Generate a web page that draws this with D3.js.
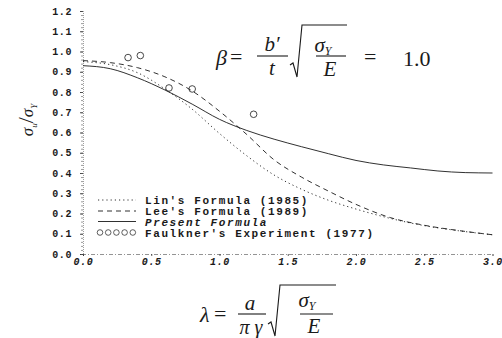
<!DOCTYPE html>
<html>
<head>
<meta charset="utf-8">
<script src="https://cdn.jsdelivr.net/npm/d3@7"></script>
<style>
  html, body { margin: 0; padding: 0; background: #fff; }
  svg { display: block; }
  .mono { font-family: "Liberation Mono", "DejaVu Sans Mono", monospace; font-weight: bold; }
  .math { font-family: "Liberation Serif", "DejaVu Serif", serif; }
</style>
</head>
<body>
<svg id="chart" width="502" height="338"></svg>
<script>
// Non-dimensional slenderness λ and ultimate strength ratio σu/σY
const lambdaGrid   = [0.0, 0.2, 0.4, 0.6, 0.8, 1.0, 1.2, 1.4, 1.6, 1.8, 2.0, 2.25, 2.5, 2.75, 3.0];
const linFormula   = [0.95, 0.935, 0.895, 0.815, 0.715, 0.595, 0.485, 0.39, 0.32, 0.265, 0.222, 0.176, 0.14, 0.115, 0.095];
const leeFormula   = [0.955, 0.945, 0.92, 0.875, 0.805, 0.705, 0.59, 0.465, 0.38, 0.31, 0.245, 0.18, 0.142, 0.116, 0.095];
const presentLambda  = [0.0, 0.2, 0.4, 0.6, 0.8, 1.0, 1.2, 1.4, 1.6, 1.8, 2.0, 2.2, 2.4, 2.6, 2.8, 3.0];
const presentFormula = [0.93, 0.915, 0.87, 0.81, 0.74, 0.665, 0.61, 0.567, 0.53, 0.495, 0.462, 0.44, 0.425, 0.41, 0.402, 0.40];
const faulknerLambda = [0.33, 0.42, 0.63, 0.80, 1.25];
const faulknerValue  = [0.97, 0.98, 0.82, 0.815, 0.69];

const xTicks = [0.0, 0.5, 1.0, 1.5, 2.0, 2.5, 3.0];
const yTicks = [0.0, 0.1, 0.2, 0.3, 0.4, 0.5, 0.6, 0.7, 0.8, 0.9, 1.0, 1.1, 1.2];
const legendLabels = ["Lin's Formula (1985)", "Lee's Formula (1989)", "Present Formula", "Faulkner's Experiment (1977)"];

const svg = d3.select("#chart");
const ink = "#1a1a1a";

const x = d3.scaleLinear().domain([0, 3]).range([83, 492.5]);
const y = d3.scaleLinear().domain([0, 1.2]).range([254, 11]);

// y axis: labelled ticks plus fine minor ticks
const yAxis = svg.append("g").attr("transform", `translate(${x(0)},0)`)
  .call(d3.axisLeft(y).tickValues(yTicks).tickFormat(d3.format(".1f")).tickSize(3).tickPadding(8));
yAxis.select(".domain").attr("stroke", "#777").attr("stroke-width", 0.7).attr("stroke-dasharray", "1,1");
yAxis.selectAll(".tick line").attr("stroke", ink).attr("stroke-width", 0.8);
yAxis.selectAll(".tick text").attr("class", "mono").attr("font-size", 10).attr("fill", ink)
  .style("letter-spacing", "0.6px");
svg.append("g").attr("transform", `translate(${x(0)},0)`)
  .call(d3.axisLeft(y).tickValues(d3.range(0, 121, 2).map(d => d / 100)).tickFormat("").tickSize(2))
  .call(g => g.select(".domain").remove())
  .selectAll(".tick line").attr("stroke", "#555").attr("stroke-width", 0.6);

// x axis
const xAxis = svg.append("g").attr("transform", `translate(0,${y(0)})`)
  .call(d3.axisBottom(x).tickValues(xTicks).tickFormat(d3.format(".1f")).tickSize(2).tickPadding(2));
xAxis.select(".domain").attr("stroke", "#666").attr("stroke-width", 0.7).attr("stroke-dasharray", "4,2,1,2");
xAxis.selectAll(".tick line").attr("stroke", ink).attr("stroke-width", 0.7);
xAxis.selectAll(".tick text").attr("class", "mono").attr("font-size", 10).style("font-style", "italic")
  .attr("fill", ink).style("letter-spacing", "0.6px");

// curves
const line = d3.line().x(d => x(d[0])).y(d => y(d[1])).curve(d3.curveMonotoneX);
const styles = [
  { data: d3.zip(lambdaGrid, linFormula), dash: "1.2,3" },
  { data: d3.zip(lambdaGrid, leeFormula), dash: "5,4" },
  { data: d3.zip(presentLambda, presentFormula), dash: null }
];
styles.forEach(s => {
  svg.append("path").attr("d", line(s.data)).attr("fill", "none")
    .attr("stroke", ink).attr("stroke-width", 0.9)
    .attr("stroke-dasharray", s.dash);
});

svg.append("g").selectAll("circle").data(d3.zip(faulknerLambda, faulknerValue)).join("circle")
  .attr("cx", d => x(d[0])).attr("cy", d => y(d[1])).attr("r", 3.3)
  .attr("fill", "none").attr("stroke", ink).attr("stroke-width", 0.8);

// legend
const lg = svg.append("g");
const rowY = [200, 211, 221.5, 232.5];
const legendDash = ["1.2,3", "5,4", null];
legendDash.forEach((dash, i) => {
  lg.append("line").attr("x1", 98).attr("x2", 136).attr("y1", rowY[i]).attr("y2", rowY[i])
    .attr("stroke", ink).attr("stroke-width", 0.9).attr("stroke-dasharray", dash);
});
lg.selectAll("circle").data(d3.range(5)).join("circle")
  .attr("cx", d => 100 + d * 8.2).attr("cy", rowY[3]).attr("r", 2.8)
  .attr("fill", "none").attr("stroke", ink).attr("stroke-width", 0.7);
legendLabels.forEach((t, i) => {
  lg.append("text").attr("class", "mono").attr("x", 145).attr("y", rowY[i] + 4)
    .attr("font-size", 11).attr("fill", ink)
    .style("letter-spacing", "1.6px")
    .style("font-style", i === 2 ? "italic" : "normal").text(t);
});

// y axis title σu/σY
const yt = svg.append("text").attr("class", "math").attr("fill", ink).style("font-style", "italic")
  .attr("transform", "translate(33,120) rotate(-90)").attr("text-anchor", "middle").attr("font-size", 17);
yt.append("tspan").text("σ");
yt.append("tspan").attr("font-size", 9).attr("dy", 4).text("u");
yt.append("tspan").style("font-style", "normal").attr("dy", -4).attr("font-size", 22).text("/");
yt.append("tspan").text("σ");
yt.append("tspan").attr("font-size", 9).attr("dy", 4).text("Y");

// helper for math formulas
function txt(g, s, px, py, size, opts = {}) {
  return g.append("text").attr("class", "math").attr("x", px).attr("y", py)
    .attr("font-size", size).attr("fill", ink)
    .attr("text-anchor", opts.anchor || "start")
    .style("font-style", opts.upright ? "normal" : "italic").text(s);
}
function rule(g, x1, x2, yy, w = 1.1) {
  g.append("line").attr("x1", x1).attr("x2", x2).attr("y1", yy).attr("y2", yy)
    .attr("stroke", ink).attr("stroke-width", w);
}
function radical(g, x0, yTop, yBot, xEnd) {
  g.append("path").attr("fill", "none").attr("stroke", ink).attr("stroke-width", 1.1)
    .attr("d", `M${x0},${yBot - 12} L${x0 + 3},${yBot - 14} L${x0 + 7},${yBot} L${x0 + 12},${yTop} L${xEnd},${yTop}`);
}

// β = (b'/t) √(σY/E) = 1.0
const beta = svg.append("g");
txt(beta, "β", 216, 65, 22);
txt(beta, "=", 230, 64, 22, { upright: true });
txt(beta, "b′", 272, 51, 21, { anchor: "middle" });
rule(beta, 257, 288, 56);
txt(beta, "t", 272, 75, 21, { anchor: "middle" });
radical(beta, 290, 25, 77, 347);
const sY = txt(beta, "σ", 323, 52, 21, { anchor: "middle" });
sY.append("tspan").attr("font-size", 12).attr("dy", 3).text("Y");
rule(beta, 316, 346, 56);
txt(beta, "E", 330, 76, 21, { anchor: "middle" });
txt(beta, "=", 364, 64, 22, { upright: true });
txt(beta, "1.0", 403, 66, 22, { upright: true });

// λ = (a/πγ) √(σY/E)
const lam = svg.append("g");
txt(lam, "λ", 200, 322, 22);
txt(lam, "=", 214, 321, 22, { upright: true });
txt(lam, "a", 250, 310, 21, { anchor: "middle" });
rule(lam, 238, 266, 314);
txt(lam, "π γ", 251, 334, 20, { anchor: "middle" });
radical(lam, 268, 285, 336, 336);
const sY2 = txt(lam, "σ", 307, 307, 21, { anchor: "middle" });
sY2.append("tspan").attr("font-size", 12).attr("dy", 3).text("Y");
rule(lam, 300, 333, 314);
txt(lam, "E", 314, 333, 21, { anchor: "middle" });
</script>
</body>
</html>
